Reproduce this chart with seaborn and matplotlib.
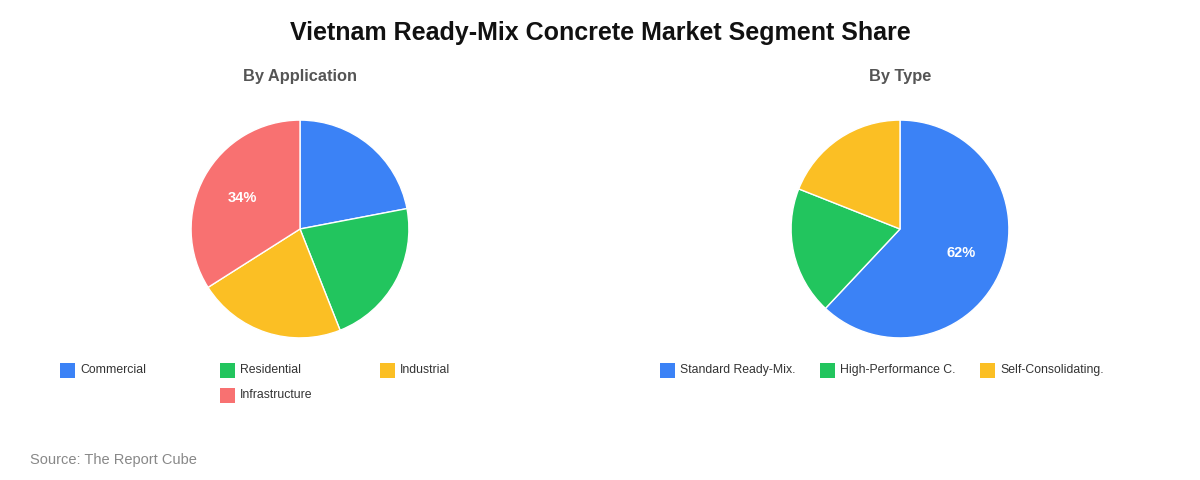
import matplotlib
matplotlib.use("Agg")
import matplotlib.pyplot as plt
import seaborn as sns
from matplotlib.patches import Rectangle

# data
app_labels = ["Commercial", "Residential", "Industrial", "Infrastructure"]
app_values = [22, 22, 22, 34]
type_labels = ["Standard Ready-Mix.", "High-Performance C.", "Self-Consolidating."]
type_values = [62, 19, 19]

title = "Vietnam Ready-Mix Concrete Market Segment Share"
subtitles = ["By Application", "By Type"]
source = "Source: The Report Cube"

app_colors = sns.color_palette(["#3B82F6", "#22C55E", "#FBBF24", "#F87171"])
type_colors = sns.color_palette(["#3B82F6", "#22C55E", "#FBBF24"])

sns.set_theme(style="white")
plt.rcParams["font.family"] = ["Liberation Sans", "DejaVu Sans"]

W, H = 1200, 480
fig = plt.figure(figsize=(W / 100, H / 100), dpi=100)
fig.patch.set_facecolor("white")


def px(x, y):
    """pixel (from top-left) -> figure fraction"""
    return x / W, 1 - y / H


def draw_pie(cx, cy, r, values, colors):
    ax = fig.add_axes([(cx - r) / W, 1 - (cy + r) / H, 2 * r / W, 2 * r / H])

    def fmt(p):
        # only the big slices get a label
        return f"{p:.0f}%" if p >= 30 else ""

    _, _, autotexts = ax.pie(
        values, colors=colors, startangle=90, counterclock=False,
        autopct=fmt, pctdistance=0.6, radius=1,
        wedgeprops=dict(edgecolor="white", linewidth=1),
    )
    for t in autotexts:
        t.set_color("white")
        t.set_fontsize(10.5)
        t.set_fontweight("bold")
    ax.set_xlim(-1.01, 1.01)
    ax.set_ylim(-1.01, 1.01)
    ax.set_aspect("equal")
    ax.axis("off")
    return ax


def draw_legend(x0, labels, colors, row_y=370, col_w=160, ncol=3, row_h=25, area_w=600):
    rows = [labels[i:i + ncol] for i in range(0, len(labels), ncol)]
    idx = 0
    for r, row in enumerate(rows):
        start = x0 + (area_w - col_w * len(row)) / 2
        y = row_y + r * row_h
        for c, lab in enumerate(row):
            x = start + c * col_w
            fx, fy = px(x, y + 7.5)
            fig.patches.append(Rectangle((fx, fy), 15 / W, 15 / H,
                                         transform=fig.transFigure,
                                         facecolor=colors[idx], edgecolor="none"))
            fig.text(*px(x + 20, y), lab, fontsize=8.8, color="#333333",
                     va="center", ha="left")
            idx += 1


fig.text(*px(600, 33), title, fontsize=18, fontweight="bold",
         color="#111111", ha="center", va="center")
fig.text(*px(300, 77), subtitles[0], fontsize=11.8, fontweight="bold",
         color="#555555", ha="center", va="center")
fig.text(*px(900, 77), subtitles[1], fontsize=11.8, fontweight="bold",
         color="#555555", ha="center", va="center")

draw_pie(300, 229, 110, app_values, app_colors)
draw_pie(900, 229, 110, type_values, type_colors)

draw_legend(0, app_labels, app_colors)
draw_legend(600, type_labels, type_colors)

fig.text(*px(30, 460), source, fontsize=10.5, color="#888888",
         ha="left", va="center")

fig.savefig("out.png", dpi=100, facecolor="white")
